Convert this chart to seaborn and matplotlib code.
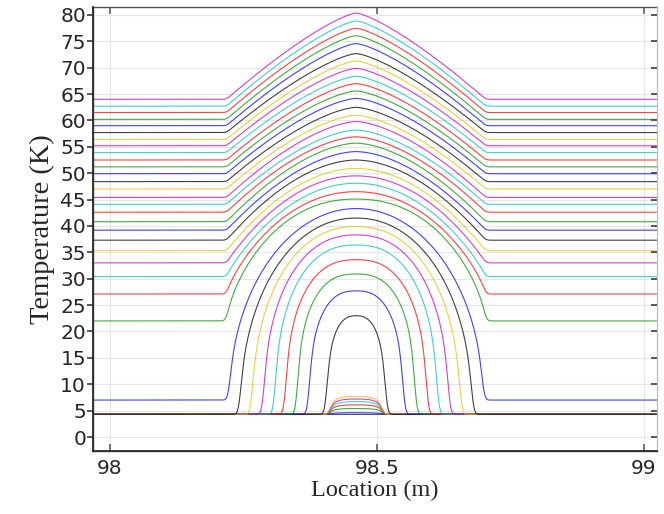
import numpy as np
import matplotlib
matplotlib.use("Agg")
import matplotlib.pyplot as plt
import seaborn as sns
import pandas as pd

# ---- data ----
# baseline (far-field) temperature of each curve, K
base_temp = [4.3, 4.3, 4.3, 4.3, 4.3, 4.3, 4.3,
             4.3, 4.3, 4.3, 4.3, 4.3, 4.3, 4.3, 4.3,
             7.0, 22.0, 27.1, 30.4, 33.0, 35.3, 37.3,
             39.2, 40.8, 42.6, 44.1, 45.4, 47.0, 48.4,
             49.9, 51.2, 52.5, 53.9, 55.2, 56.4, 57.7,
             59.0, 60.2, 61.5, 62.7, 64.0]
# peak temperature at the hot-spot, K
peak_temp = [4.3, 4.6, 5.4, 6.1, 6.7, 7.2, 7.7,
             23.0, 27.7, 30.9, 33.6, 36.4, 38.3, 39.9, 41.5,
             43.3, 45.1, 46.5, 48.1, 49.5, 50.9, 52.5,
             54.1, 55.7, 56.9, 58.2, 59.8, 61.0, 62.5,
             64.2, 65.6, 67.0, 68.4, 69.9, 71.3, 72.7,
             74.6, 76.1, 77.5, 78.9, 80.4]
# half-width of the heated zone at its foot, m
half_width = [0.05, 0.05, 0.05, 0.05, 0.05, 0.05, 0.05,
              0.056, 0.089, 0.111, 0.133, 0.153, 0.174, 0.196, 0.218,
              0.238, 0.243, 0.243, 0.243, 0.243, 0.243, 0.243,
              0.243, 0.243, 0.243, 0.243, 0.243, 0.243, 0.243,
              0.243, 0.243, 0.243, 0.243, 0.243, 0.243, 0.243,
              0.243, 0.243, 0.243, 0.243, 0.243]
# profile shape: wall exponent and roundness exponent
wall_exp = [3.0, 3.0, 3.0, 3.0, 3.0, 3.0, 3.0,
            2.6, 2.6, 2.6, 2.5, 2.4, 2.3, 2.2, 2.1,
            2.0, 2.2, 2.05, 2.0, 2.0, 1.95, 1.85,
            1.75, 1.7, 1.65, 1.6, 1.57, 1.54, 1.5,
            1.48, 1.46, 1.44, 1.42, 1.4, 1.38, 1.36,
            1.35, 1.34, 1.33, 1.32, 1.3]
round_exp = [3.0, 3.0, 3.0, 3.0, 3.0, 3.0, 3.0,
             2.6, 2.6, 2.6, 2.5, 2.4, 2.3, 2.2, 2.1,
             2.0, 1.45, 1.25, 1.12, 1.05, 1.0, 1.0,
             1.0, 1.0, 1.0, 1.0, 1.0, 1.0, 1.0,
             1.0, 1.0, 1.0, 1.0, 1.0, 1.0, 1.0,
             1.0, 1.0, 1.0, 1.0, 1.0]
center = 98.461
x_ticks = [98, 98.5, 99]
y_ticks = list(range(0, 81, 5))

comsol_colors = ["#0000ff", "#009000", "#ff0000", "#00c0c0", "#c000c0", "#e8c000", "#000000"]
# first curve is black, then the cycle starts with blue
curve_colors = [comsol_colors[(i - 1) % 7] for i in range(len(base_temp))]

x = np.linspace(97.95, 99.05, 2201)
k = np.exp(-0.5 * (np.arange(-30, 31) * 0.0005 / 0.004) ** 2)
k /= k.sum()
rows = []
for i, (b, pk, w, a, r) in enumerate(zip(base_temp, peak_temp, half_width,
                                         wall_exp, round_exp)):
    u = np.clip(np.abs(x - center) / w, 0, 1)
    t = b + (pk - b) * (1 - u ** a) ** (1 / r)
    t = np.convolve(np.pad(t, 30, mode="edge"), k, mode="valid")
    rows.append(pd.DataFrame({"x": x, "T": t, "curve": i}))
df = pd.concat(rows, ignore_index=True)

sns.set_theme(style="white")
plt.rcParams["font.family"] = ["DejaVu Sans"]

fig = plt.figure(figsize=(6.64, 5.14), dpi=100)
ax = fig.add_axes([0.140, 0.1226, 0.849, 0.8638])
sns.lineplot(data=df, x="x", y="T", hue="curve", palette=curve_colors,
             legend=False, ax=ax, linewidth=0.8, alpha=0.75, sort=False,
             estimator=None)

ax.set_xlim(97.968, 99.024)
ax.set_ylim(-2.65, 81.5)
ax.set_xticks(x_ticks)
ax.set_xticklabels(["98", "98.5", "99"])
ax.set_yticks(y_ticks)
ax.grid(True, color="#e6e6e6", linewidth=0.8)
ax.set_axisbelow(True)
for s in ["left", "bottom", "top"]:
    ax.spines[s].set_color("#555555")
    ax.spines[s].set_linewidth(1.0)
ax.spines["right"].set_color("#bbbbbb")
ax.spines["right"].set_linewidth(0.8)
ax.tick_params(axis="y", left=True, right=False, direction="out",
               length=4, color="#444444", labelsize=14.5, pad=1)
ax.tick_params(axis="x", bottom=True, top=True, direction="in", length=5,
               color="#666666", labelsize=14.5, pad=6)

ax2 = ax.twinx()
ax2.set_ylim(ax.get_ylim())
ax2.set_yticks(y_ticks)
ax2.tick_params(axis="y", right=True, direction="in", length=4,
                color="#444444", labelright=False)
ax2.spines["right"].set_color("#bbbbbb")
ax2.spines["right"].set_linewidth(0.8)
ax2.spines["top"].set_visible(False)
ax2.grid(False)

ax.set_xlabel("Location (m)", family="Liberation Serif", fontsize=17.5, labelpad=1)
ax.set_ylabel("Temperature (K)", family="Liberation Serif", fontsize=20.5, labelpad=4)
fig.savefig("out.png", dpi=100)
